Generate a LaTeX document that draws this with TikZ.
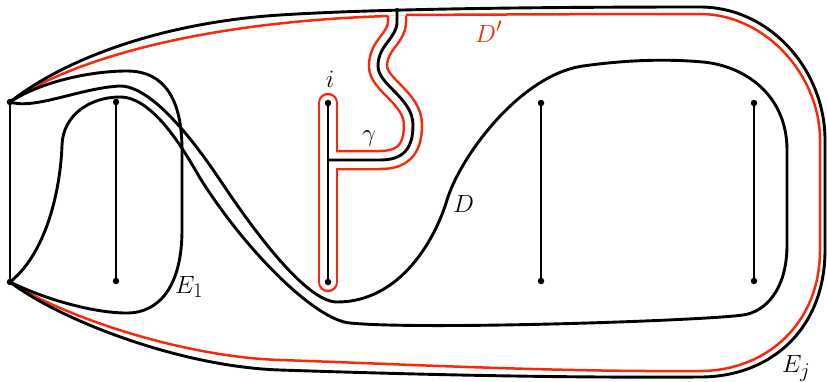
\documentclass[tikz,border=0pt]{standalone}
\definecolor{dred}{RGB}{250,40,10}
\begin{document}
\begin{tikzpicture}[x=1pt,y=-1pt,
  blk/.style={line width=2.9pt, line join=round},
  redl/.style={draw=dred, line width=2.5pt},
  dot/.style={circle, fill=black, inner sep=0pt, minimum size=6.5pt},
  lab/.style={inner sep=0pt, font=\Huge}]
\useasboundingbox (0,0) rectangle (827,381);

% named points
\coordinate (P1) at (10,102);
\coordinate (P2) at (10,282);

% red curve D'
\draw[redl] (P1) .. controls (70,60) and (200,22) .. (388,16);
\draw[redl] (406,15) .. controls (500,14.5) and (600,14) .. (700,14)
  .. controls (765,14) and (820,75) .. (820,140) -- (820,250)
  .. controls (820,325) and (765,371) .. (700,371)
  .. controls (550,372) and (400,364) .. (280,360)
  .. controls (180,356.7) and (60,315) .. (P2);

% red tube around gamma and chord i
\draw[dred, line width=20.5pt, line cap=round] (328,103) -- (328,282);
\draw[dred, line width=20.5pt] (397,15.5) -- (397,22) .. controls (397,38) and (378,45) .. (378,66) .. controls (378,85) and (413,98) .. (413,125) .. controls (413,150) and (402,160) .. (380,160) -- (328,160);
\draw[white, line width=15.5pt, line cap=round] (328,103) -- (328,282);
\draw[white, line width=15.5pt] (397,15.5) -- (397,22) .. controls (397,38) and (378,45) .. (378,66) .. controls (378,85) and (413,98) .. (413,125) .. controls (413,150) and (402,160) .. (380,160) -- (328,160);

% gamma
\draw[blk] (397,8) -- (397,22) .. controls (397,38) and (378,45) .. (378,66) .. controls (378,85) and (413,98) .. (413,125) .. controls (413,150) and (402,160) .. (380,160) -- (328,160);

% outer curve E_j
\draw[blk] (P1) .. controls (70,55) and (170,22) .. (280,15)
  .. controls (380,8.6) and (550,7) .. (700,7)
  .. controls (770,7) and (825,70) .. (825,140) -- (825,250)
  .. controls (825,330) and (770,377) .. (700,377)
  .. controls (550,378) and (400,374) .. (280,370)
  .. controls (180,366.7) and (60,320) .. (P2);

% E_1
\draw[blk] (P1) .. controls (40,82) and (90,71) .. (127,71)
  .. controls (165,71) and (182,100) .. (182,150) -- (182,230)
  .. controls (182,285) and (160,313) .. (127,313)
  .. controls (90,313) and (40,297) .. (P2);

% D
\draw[blk] (P1) .. controls (35,110) and (80,88) .. (120,86)
  .. controls (150,86) and (190,135) .. (220,180)
  .. controls (250,225) and (305,302) .. (337,302)
  .. controls (400,302) and (435,240) .. (447,200)
  .. controls (460,157) and (520,75) .. (583,66)
  .. controls (640,58) and (680,60) .. (703,62)
  .. controls (745,66) and (787,95) .. (787,150) -- (787,245)
  .. controls (787,290) and (765,312) .. (743,315)
  .. controls (699,321) and (420,330) .. (350,323)
  .. controls (315,320) and (245,250) .. (200,178)
  .. controls (187,156) and (155,97) .. (120,97)
  .. controls (90,97) and (63,115) .. (62,145)
  .. controls (61,180) and (50,250) .. (P2);

% boundary segment
\draw[blk] (P1) -- (P2);
\node[dot] (p1) at (P1) {};
\node[dot] (p2) at (P2) {};

% chords
\node[dot] (a1) at (116,102) {};
\node[dot] (a2) at (116,281) {};
\node[dot] (b1) at (328,103) {};
\node[dot] (b2) at (328,282) {};
\node[dot] (c1) at (541,103) {};
\node[dot] (c2) at (541,281) {};
\node[dot] (d1) at (754,103) {};
\node[dot] (d2) at (754,281) {};
\draw[blk] (a1.center) -- (a2.center);
\draw[blk] (b1.center) -- (b2.center);
\draw[blk] (c1.center) -- (c2.center);
\draw[blk] (d1.center) -- (d2.center);

% labels
\node[lab, anchor=base west] (lE1) at (175,293) {$E_1$};
\node[lab, anchor=base west] (lD) at (453,212) {$D$};
\node[lab, anchor=base] (lg) at (369,141) {$\gamma$};
\node[lab, anchor=base] (li) at (330,87) {$i$};
\node[lab, anchor=base west, text=dred] (lDp) at (475,42) {$D'$};
\node[lab, anchor=base west] (lEj) at (782,372) {$E_j$};
\end{tikzpicture}
\end{document}
